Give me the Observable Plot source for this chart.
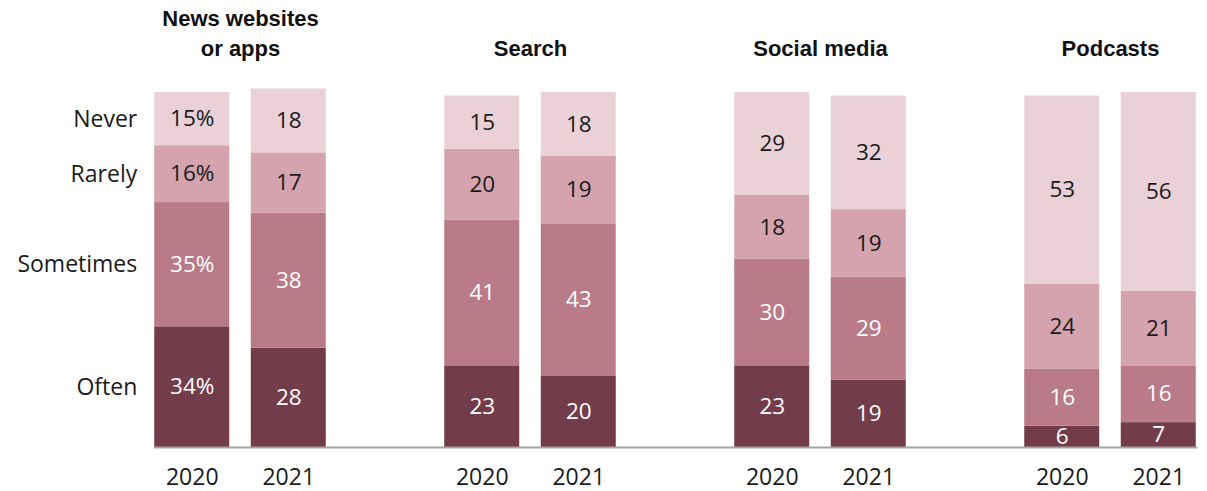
<!DOCTYPE html>
<html>
<head>
<meta charset="utf-8">
<script src="https://cdn.jsdelivr.net/npm/d3@7"></script>
<script src="https://cdn.jsdelivr.net/npm/@observablehq/plot@0.6"></script>
<style>
  html, body { margin: 0; padding: 0; background: #fff; }
  #chart svg { display: block; }
</style>
</head>
<body>
<div id="chart"></div>
<script>
const groups = ["News websites or apps", "Search", "Social media", "Podcasts"];
const groupTitles = ["News websites\nor apps", "Search", "Social media", "Podcasts"];
const years = ["2020", "2021"];
const responses = ["Often", "Sometimes", "Rarely", "Never"];

// values per group (same order as groups)
const often2020 = [34, 23, 23, 6];
const often2021 = [28, 20, 19, 7];
const sometimes2020 = [35, 41, 30, 16];
const sometimes2021 = [38, 43, 29, 16];
const rarely2020 = [16, 20, 18, 24];
const rarely2021 = [17, 19, 19, 21];
const never2020 = [15, 15, 29, 53];
const never2021 = [18, 18, 32, 56];

const colors = ["#733c4a", "#b97b88", "#d4a3ad", "#ead1d7"];
const textColors = ["#ffffff", "#ffffff", "#1a1a1a", "#1a1a1a"];

const series = {
  "2020": [often2020, sometimes2020, rarely2020, never2020],
  "2021": [often2021, sometimes2021, rarely2021, never2021]
};

const data = [];
groups.forEach((g, gi) => {
  years.forEach(y => {
    responses.forEach((r, ri) => {
      data.push({group: g, year: y, response: r, value: series[y][ri][gi]});
    });
  });
});

const firstBar = data.filter(d => d.group === groups[0] && d.year === years[0]);

const fontFamily = "'Open Sans', 'Noto Sans', sans-serif";

const plot = Plot.plot({
  width: 1207,
  height: 491,
  marginLeft: 143,
  marginRight: 0,
  marginTop: 92,
  marginBottom: 44,
  style: {fontFamily, background: "#fff", overflow: "visible"},
  fx: {domain: groups, axis: null, paddingInner: 0.4086, paddingOuter: 0.0388, round: false},
  x: {domain: years, paddingInner: 0.223, paddingOuter: 0, round: false},
  y: {domain: [0, 100], axis: null},
  color: {domain: responses, range: colors},
  marks: [
    Plot.barY(data, Plot.stackY({
      fx: "group", x: "year", y: "value", fill: "response", order: responses
    })),
    Plot.text(data, Plot.stackY({
      fx: "group", x: "year", y: "value", z: "response", order: responses,
      text: d => (d.group === groups[0] && d.year === years[0]) ? d.value + "%" : String(d.value),
      fill: d => textColors[responses.indexOf(d.response)],
      fontSize: 22.5
    })),
    Plot.text(firstBar, Plot.stackY({
      fx: "group", x: "year", y: "value", z: "response", order: responses,
      text: "response", textAnchor: "end", dx: -55, fill: "#1a1a1a", fontSize: 23
    })),
    Plot.text(groups, {
      fx: d => d, text: (d, i) => groupTitles[i], frameAnchor: "top", dy: -37,
      lineAnchor: "bottom", lineHeight: 1.32, fontWeight: "bold", fontSize: 22,
      fontFamily: "'Liberation Sans', Arial, sans-serif", fill: "#111"
    }),
    Plot.axisX({tickSize: 0, tickPadding: 21, fontSize: 23, label: null, fill: "#1a1a1a"}),
    Plot.frame({anchor: "bottom", facet: "super", stroke: "#a3a3a3", strokeWidth: 2})
  ]
});

document.getElementById("chart").appendChild(plot);
</script>
</body>
</html>
